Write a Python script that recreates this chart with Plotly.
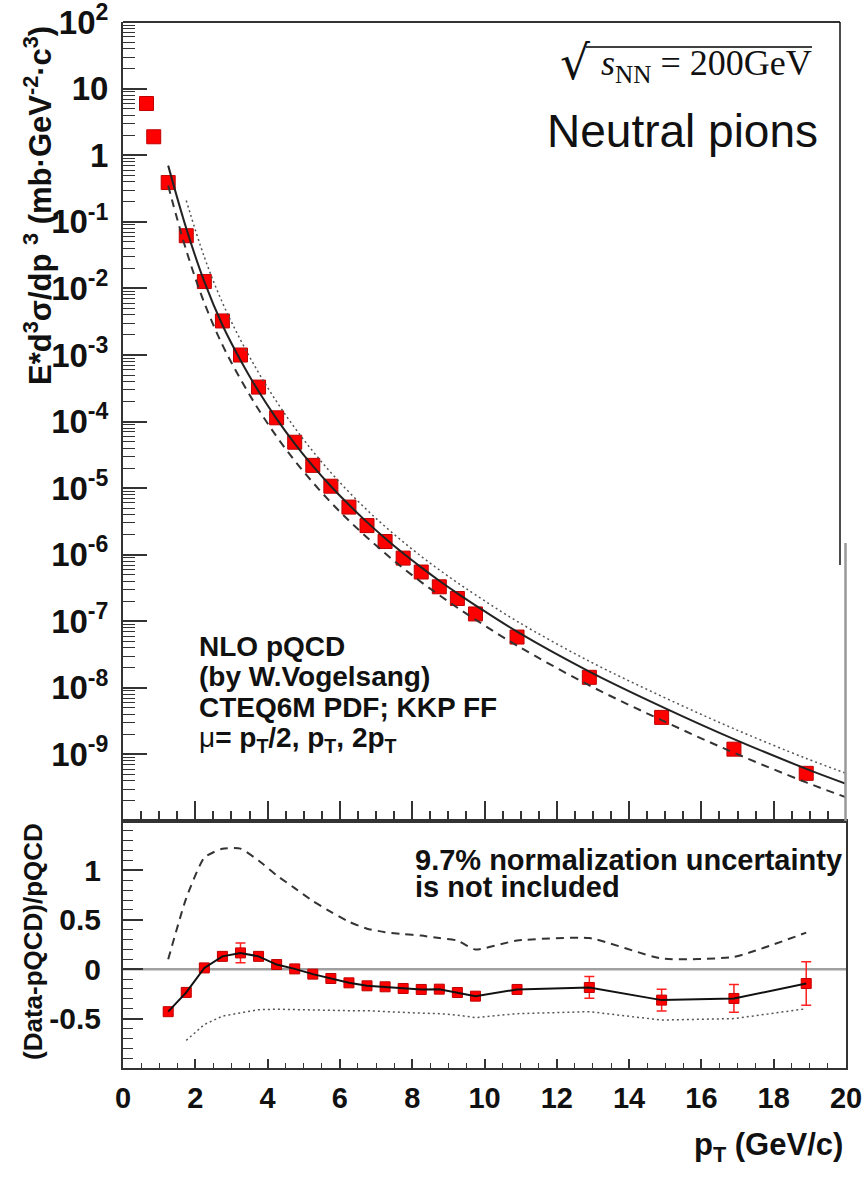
import plotly.graph_objects as go

# ---------------- data ----------------
# invariant cross section of neutral pions, p+p at sqrt(s)=200 GeV
pt_low = [0.65, 0.85]
xsec_low = [6.0, 1.9]

pt = [1.25, 1.75, 2.25, 2.75, 3.25, 3.75, 4.25, 4.75, 5.25, 5.75, 6.25, 6.75,
      7.25, 7.75, 8.25, 8.75, 9.25, 9.75, 10.9, 12.9, 14.9, 16.9, 18.9]
xsec = [0.39, 0.062, 0.0127, 3.25e-3, 1.0e-3, 3.3e-4, 1.14e-4, 4.9e-5, 2.2e-5,
        1.07e-5, 5.2e-6, 2.74e-6, 1.58e-6, 8.9e-7, 5.5e-7, 3.3e-7, 2.2e-7,
        1.29e-7, 5.8e-8, 1.44e-8, 3.6e-9, 1.2e-9, 5.2e-10]

# NLO pQCD predictions for three scale choices
th_pt = [1.25, 1.75, 2.25, 2.75, 3.25, 3.75, 4.25, 4.75, 5.25, 5.75, 6.25, 6.75,
         7.25, 7.75, 8.25, 8.75, 9.25, 9.75, 10.9, 12.9, 14.9, 16.9, 18.9, 20.0]
th_mu_pt = [0.70, 0.080, 0.01265, 2.83e-3, 8.36e-4, 2.85e-4, 1.10e-4, 4.68e-5,
            2.16e-5, 1.07e-5, 5.62e-6, 3.09e-6, 1.77e-6, 1.05e-6, 6.46e-7,
            4.07e-7, 2.63e-7, 1.74e-7, 7.0e-8, 1.76e-8, 5.24e-9, 1.70e-9,
            6.08e-10, 3.63e-10]
th_mu_2pt = [0.351, 0.0374, 6.05e-3, 1.42e-3, 4.34e-4, 1.52e-4, 5.96e-5, 2.59e-5,
             1.22e-5, 6.12e-6, 3.26e-6, 1.82e-6, 1.05e-6, 6.28e-7, 3.88e-7,
             2.47e-7, 1.60e-7, 1.06e-7, 4.32e-8, 1.09e-8, 3.27e-9, 1.06e-9,
             3.80e-10, 2.27e-10]
th_pt_half = [1.75, 2.25, 2.75, 3.25, 3.75, 4.25, 4.75, 5.25, 5.75, 6.25, 6.75,
              7.25, 7.75, 8.25, 8.75, 9.25, 9.75, 10.9, 12.9, 14.9, 16.9, 18.9, 20.0]
th_mu_half = [0.210, 0.0296, 6.12e-3, 1.69e-3, 5.43e-4, 1.99e-4, 8.09e-5, 3.59e-5,
              1.72e-5, 8.75e-6, 4.70e-6, 2.65e-6, 1.56e-6, 9.46e-7, 5.93e-7,
              3.80e-7, 2.50e-7, 1.00e-7, 2.51e-8, 7.48e-9, 2.43e-9, 8.71e-10,
              5.21e-10]

# (Data - pQCD)/pQCD
ratio = [-0.43, -0.235, 0.013, 0.13, 0.165, 0.13, 0.047, 0.003, -0.05, -0.094,
         -0.138, -0.168, -0.178, -0.195, -0.205, -0.202, -0.236, -0.273, -0.205,
         -0.185, -0.313, -0.296, -0.145]
ratio_err = [0.03, 0.03, 0.03, 0.04, 0.10, 0.04, 0.03, 0.02, 0.02, 0.02, 0.02,
             0.02, 0.02, 0.02, 0.02, 0.02, 0.02, 0.03, 0.03, 0.11, 0.11, 0.14, 0.22]
ratio_mu_2pt = [0.10, 0.72, 1.13, 1.22, 1.22, 1.10, 0.95, 0.82, 0.69, 0.58, 0.48,
                0.41, 0.375, 0.355, 0.34, 0.315, 0.29, 0.20, 0.29, 0.315, 0.108,
                0.125, 0.37]
ratio_pt_half = [1.75, 2.25, 2.75, 3.25, 3.75, 4.25, 4.75, 5.25, 5.75, 6.25, 6.75,
                 7.25, 7.75, 8.25, 8.75, 9.25, 9.75, 10.9, 12.9, 14.9, 16.9, 18.9]
ratio_mu_half = [-0.72, -0.56, -0.475, -0.44, -0.41, -0.405, -0.41, -0.41, -0.415,
                 -0.42, -0.42, -0.43, -0.435, -0.445, -0.45, -0.465, -0.49, -0.45,
                 -0.43, -0.515, -0.50, -0.40]

top_tickvals = [1e-9, 1e-8, 1e-7, 1e-6, 1e-5, 1e-4, 1e-3, 1e-2, 1e-1, 1, 10, 100]
top_ticktext = ["10<sup>-9</sup>", "10<sup>-8</sup>", "10<sup>-7</sup>",
                "10<sup>-6</sup>", "10<sup>-5</sup>", "10<sup>-4</sup>",
                "10<sup>-3</sup>", "10<sup>-2</sup>", "10<sup>-1</sup>",
                "1", "10", "10<sup>2</sup>"]
bot_tickvals = [-0.5, 0, 0.5, 1]
bot_ticktext = ["-0.5", "0", "0.5", "1"]

# positions of the 2..9 sub-decade ticks on the log axis
log_minor_ticks = [m * 10.0 ** e for e in range(-10, 2) for m in range(2, 10)]

# ---------------- geometry helpers ----------------
W, H = 865, 1178
L, R, T, B = 123, 846, 22, 1068
SPLIT = 821


def fx(px):
    return (px - L) / (R - L)


def fy(py):
    return (B - py) / (B - T)


SANS = "Liberation Sans, Arial, Helvetica, sans-serif"
SERIF = "Liberation Serif, DejaVu Serif, Times New Roman, serif"
AX = "#333333"
RED = "#ff0000"
LOG_RANGE = [-10, 2.003]

fig = go.Figure()

# ---------------- top panel ----------------
fig.add_trace(go.Scatter(
    x=pt_low + pt, y=xsec_low + xsec, mode="markers",
    marker=dict(symbol="square", size=14, color=RED,
                line=dict(color="#c00000", width=1)),
    xaxis="x", yaxis="y", showlegend=False))
fig.add_trace(go.Scatter(
    x=th_pt, y=th_mu_pt, mode="lines", line=dict(color="#222222", width=2, shape="spline"),
    xaxis="x", yaxis="y", showlegend=False))
fig.add_trace(go.Scatter(
    x=th_pt, y=th_mu_2pt, mode="lines",
    line=dict(color="#333333", width=2, dash="8px,6px", shape="spline"),
    xaxis="x", yaxis="y", showlegend=False))
fig.add_trace(go.Scatter(
    x=th_pt_half, y=th_mu_half, mode="lines",
    line=dict(color="#555555", width=1.5, dash="2px,3px", shape="spline"),
    xaxis="x", yaxis="y", showlegend=False))

# ---------------- bottom panel ----------------
fig.add_trace(go.Scatter(
    x=pt, y=ratio, mode="markers",
    marker=dict(symbol="square", size=10, color=RED,
                line=dict(color="#c00000", width=1)),
    error_y=dict(type="data", array=ratio_err, color="#ff2020",
                 thickness=1.5, width=5),
    xaxis="x2", yaxis="y2", showlegend=False))
fig.add_trace(go.Scatter(
    x=pt, y=ratio, mode="lines", line=dict(color="#111111", width=2),
    xaxis="x2", yaxis="y2", showlegend=False))
fig.add_trace(go.Scatter(
    x=pt, y=ratio_mu_2pt, mode="lines",
    line=dict(color="#333333", width=2, dash="8px,6px", shape="spline", smoothing=0.5),
    xaxis="x2", yaxis="y2", showlegend=False))
fig.add_trace(go.Scatter(
    x=ratio_pt_half, y=ratio_mu_half, mode="lines",
    line=dict(color="#555555", width=1.5, dash="2px,3px"),
    xaxis="x2", yaxis="y2", showlegend=False))

split_y = fy(SPLIT)

fig.update_layout(
    width=W, height=H,
    margin=dict(l=L, r=W - R, t=T, b=H - B, autoexpand=False),
    paper_bgcolor="white", plot_bgcolor="white",
    showlegend=False,
    xaxis=dict(domain=[0, 1], anchor="y", range=[0, 20], showticklabels=False,
               tick0=0, dtick=2, ticks="inside", ticklen=20, tickwidth=1.5,
               tickcolor=AX, automargin=False,
               minor=dict(ticks="inside", ticklen=10, tickwidth=1.5,
                          tickcolor=AX, dtick=0.5, tick0=0),
               showline=True, linecolor=AX, linewidth=2, mirror=False,
               showgrid=False, zeroline=False),
    yaxis=dict(domain=[split_y, 1], anchor="x", type="log", range=LOG_RANGE,
               tickmode="array", tickvals=top_tickvals, ticktext=top_ticktext,
               ticks="inside", ticklen=24, tickwidth=1.5, tickcolor=AX,
               minor=dict(tickmode="array", tickvals=log_minor_ticks,
                          ticks="inside", ticklen=12, tickwidth=1.2,
                          tickcolor=AX, showgrid=False),
               tickfont=dict(family=SANS, size=33, color="#111111", weight="bold"),
               ticklabelstandoff=6, ticklabeloverflow="allow", automargin=False,
               showline=True, linecolor=AX, linewidth=2, mirror=False,
               showgrid=False, zeroline=False),
    xaxis2=dict(domain=[0, 1], anchor="y2", range=[0, 20], tick0=0, dtick=2,
                ticks="inside", ticklen=9, tickwidth=1.5, tickcolor=AX,
                minor=dict(ticks="inside", ticklen=5, tickwidth=1.2,
                           tickcolor=AX, dtick=0.5, tick0=0),
                tickfont=dict(family=SANS, size=29, color="#111111", weight="bold"),
                ticklabelstandoff=3, automargin=False,
                showline=True, linecolor=AX, linewidth=2, mirror=True,
                showgrid=False, zeroline=False),
    yaxis2=dict(domain=[0, split_y], anchor="x2", range=[-1, 1.5],
                tickmode="array", tickvals=bot_tickvals, ticktext=bot_ticktext,
                ticks="inside", ticklen=20, tickwidth=1.5, tickcolor=AX,
                minor=dict(ticks="inside", ticklen=10, tickwidth=1.2,
                           tickcolor=AX, dtick=0.1, tick0=0),
                tickfont=dict(family=SANS, size=30, color="#111111", weight="bold"),
                ticklabelstandoff=14, automargin=False,
                showline=True, linecolor=AX, linewidth=2, mirror=True,
                showgrid=False, zeroline=False),
)

# frame pieces of the upper panel
fig.add_shape(type="line", xref="paper", yref="paper",
              x0=0, x1=fx(840), y0=1, y1=1, line=dict(color=AX, width=2))
fig.add_shape(type="line", xref="paper", yref="paper",
              x0=fx(840), x1=fx(840), y0=1, y1=fy(565),
              line=dict(color="#111111", width=1.5))
fig.add_shape(type="line", xref="paper", yref="paper",
              x0=fx(845.5), x1=fx(845.5), y0=fy(543), y1=split_y,
              line=dict(color="#999999", width=2.5))

# zero reference in the ratio panel
fig.add_shape(type="line", xref="x2", yref="y2", x0=0, x1=20, y0=0, y1=0,
              line=dict(color="#a0a0a0", width=2.5), layer="below")

# radical bar over s_NN
fig.add_shape(type="line", xref="paper", yref="paper",
              x0=fx(586), x1=fx(812), y0=fy(47), y1=fy(47),
              line=dict(color="black", width=1.5))


def note(text, px, py, size, xanchor="left", family=SANS, bold=True, angle=0,
         yanchor="middle"):
    fig.add_annotation(
        text=text, x=fx(px), y=fy(py), xref="paper", yref="paper",
        xanchor=xanchor, yanchor=yanchor, showarrow=False, textangle=angle,
        font=dict(family=family, size=size, color="#111111",
                  weight="bold" if bold else "normal"))


note("√", 592, 63, 47, xanchor="right", family="DejaVu Serif", bold=False)
note("<i>s</i><sub>NN</sub> = 200GeV", 814, 66, 36, xanchor="right",
     family=SERIF, bold=False)
note("Neutral pions", 820, 131, 46, xanchor="right", bold=False)

note("NLO pQCD", 197, 646, 28)
note("(by W.Vogelsang)", 197, 676.5, 28)
note("CTEQ6M PDF; KKP FF", 197, 707, 28)
note("<span style='font-weight:normal'>μ</span>= p<sub>T</sub>/2, p<sub>T</sub>, 2p<sub>T</sub>",
     197, 739, 28)

note("9.7% normalization uncertainty", 413, 860, 29)
note("is not included", 413, 887, 29)

note("E*d<sup>3</sup>σ/dp <sup>3</sup> (mb·GeV<sup>-2</sup>·c<sup>3</sup>)",
     38, 206, 31, xanchor="center", angle=-90)
note("(Data-pQCD)/pQCD", 33, 942, 26, xanchor="center", angle=-90)
note("p<sub>T</sub> (GeV/c)", 845, 1147, 31, xanchor="right")

fig.write_html("out.html")
